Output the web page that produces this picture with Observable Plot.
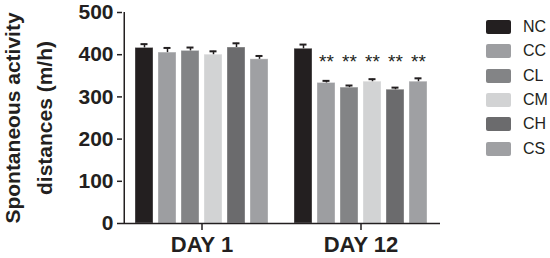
<!DOCTYPE html>
<html>
<head>
<meta charset="utf-8">
<script src="https://cdn.jsdelivr.net/npm/d3@7"></script>
<script src="https://cdn.jsdelivr.net/npm/@observablehq/plot@0.6"></script>
<style>
  body { margin: 0; background: white; }
  #wrap { position: relative; width: 550px; height: 258px; overflow: hidden; font-family: "Liberation Sans", Arial, sans-serif; }
  #legend { position: absolute; left: 486px; top: 15px; }
  .leg-swatch { height: 24.3px; display: flex; align-items: center; margin: 0 !important; padding: 0 !important; font-size: 16px; color: #231f20; font-family: "Liberation Sans", Arial, sans-serif; }
  .leg-swatch svg { margin-right: 12px !important; }
  .leg-swatch svg rect { rx: 2px; ry: 2px; }
</style>
</head>
<body>
<div id="wrap"><div id="chart"></div><div id="legend"></div></div>
<script>
const groups = ["NC", "CC", "CL", "CM", "CH", "CS"];
const days = ["DAY 1", "DAY 12"];
const colors = ["#231f20", "#9d9ea1", "#838486", "#d2d3d4", "#6b6b6d", "#9fa0a3"];
const day1Mean = [416, 405, 409, 400, 417, 389];
const day1Err = [9, 11, 8, 8, 10, 8];
const day12Mean = [414, 333, 322, 336, 317, 336];
const day12Err = [10, 5, 5, 6, 5, 8];
const yTicks = [0, 100, 200, 300, 400, 500];
const starGroups = ["CC", "CL", "CM", "CH", "CS"];
const starLabel = "**";
const starY = 382;
const yLabel = "Spontaneous activity\ndistances (m/h)";

const means = [day1Mean, day12Mean];
const errs = [day1Err, day12Err];
const data = days.flatMap((day, di) => groups.map((g, gi) => ({day, group: g, mean: means[di][gi], err: errs[di][gi]})));
const stars = starGroups.map(g => ({day: days[1], group: g, label: starLabel}));

const W = 550, H = 258, ML = 122, MR = 110, MT = 12, MB = 35;
const pin = 0.224, pout = 0.4665;
const facetW = (W - ML - MR) / days.length;
const step = facetW / (groups.length - pin + 2 * pout);
const firstCenter = pout * step + (1 - pin) * step / 2;
const ink = "#231f20";

const plot = Plot.plot({
  width: W, height: H,
  marginLeft: ML, marginRight: MR, marginTop: MT, marginBottom: MB,
  style: {fontFamily: "Liberation Sans, Arial, sans-serif", color: ink, background: "white", overflow: "visible"},
  fx: {domain: days, paddingInner: 0, paddingOuter: 0, label: null},
  x: {domain: groups, paddingInner: pin, paddingOuter: pout, axis: null},
  y: {domain: [0, 500], label: null},
  color: {domain: groups, range: colors},
  marks: [
    Plot.barY(data, {fx: "day", x: "group", y: "mean", fill: "group", stroke: "white", strokeOpacity: 0.35, strokeWidth: 1}),
    Plot.ruleX(data, {fx: "day", x: "group", y1: "mean", y2: d => d.mean + d.err, stroke: ink, strokeWidth: 1.5}),
    Plot.tickY(data, {fx: "day", x: "group", y: d => d.mean + d.err, stroke: ink, strokeWidth: 2, insetLeft: 5.5, insetRight: 5.5}),
    Plot.text(stars, {fx: "day", x: "group", y: () => starY, text: "label", fontSize: 19, fill: ink}),
    Plot.ruleY([0], {stroke: ink, strokeWidth: 1.5}),
    Plot.ruleX([{day: days[0], group: groups[0]}], {fx: "day", x: "group", y1: 0, y2: 500, dx: -firstCenter, stroke: ink, strokeWidth: 1.5}),
    Plot.axisY({ticks: yTicks, tickSize: 5, tickPadding: 4, fontSize: 21, fontWeight: "bold", label: null, stroke: ink, strokeWidth: 1.5, fill: ink}),
    Plot.axisFx({anchor: "bottom", tickSize: 7, tickPadding: 6, fontSize: 22, fontWeight: "bold", label: null, stroke: ink, strokeWidth: 1.5, fill: ink}),
    Plot.text([{day: days[0], label: yLabel}], {fx: "day", text: "label", frameAnchor: "left", textAnchor: "middle", rotate: -90, dx: -97, fontSize: 21, fontWeight: "bold", lineHeight: 1.55, fill: ink})
  ]
});
document.getElementById("chart").appendChild(plot);
const leg = plot.legend("color", {columns: 1, swatchWidth: 25, swatchHeight: 14, className: "leg"});
document.getElementById("legend").appendChild(leg);
</script>
</body>
</html>
